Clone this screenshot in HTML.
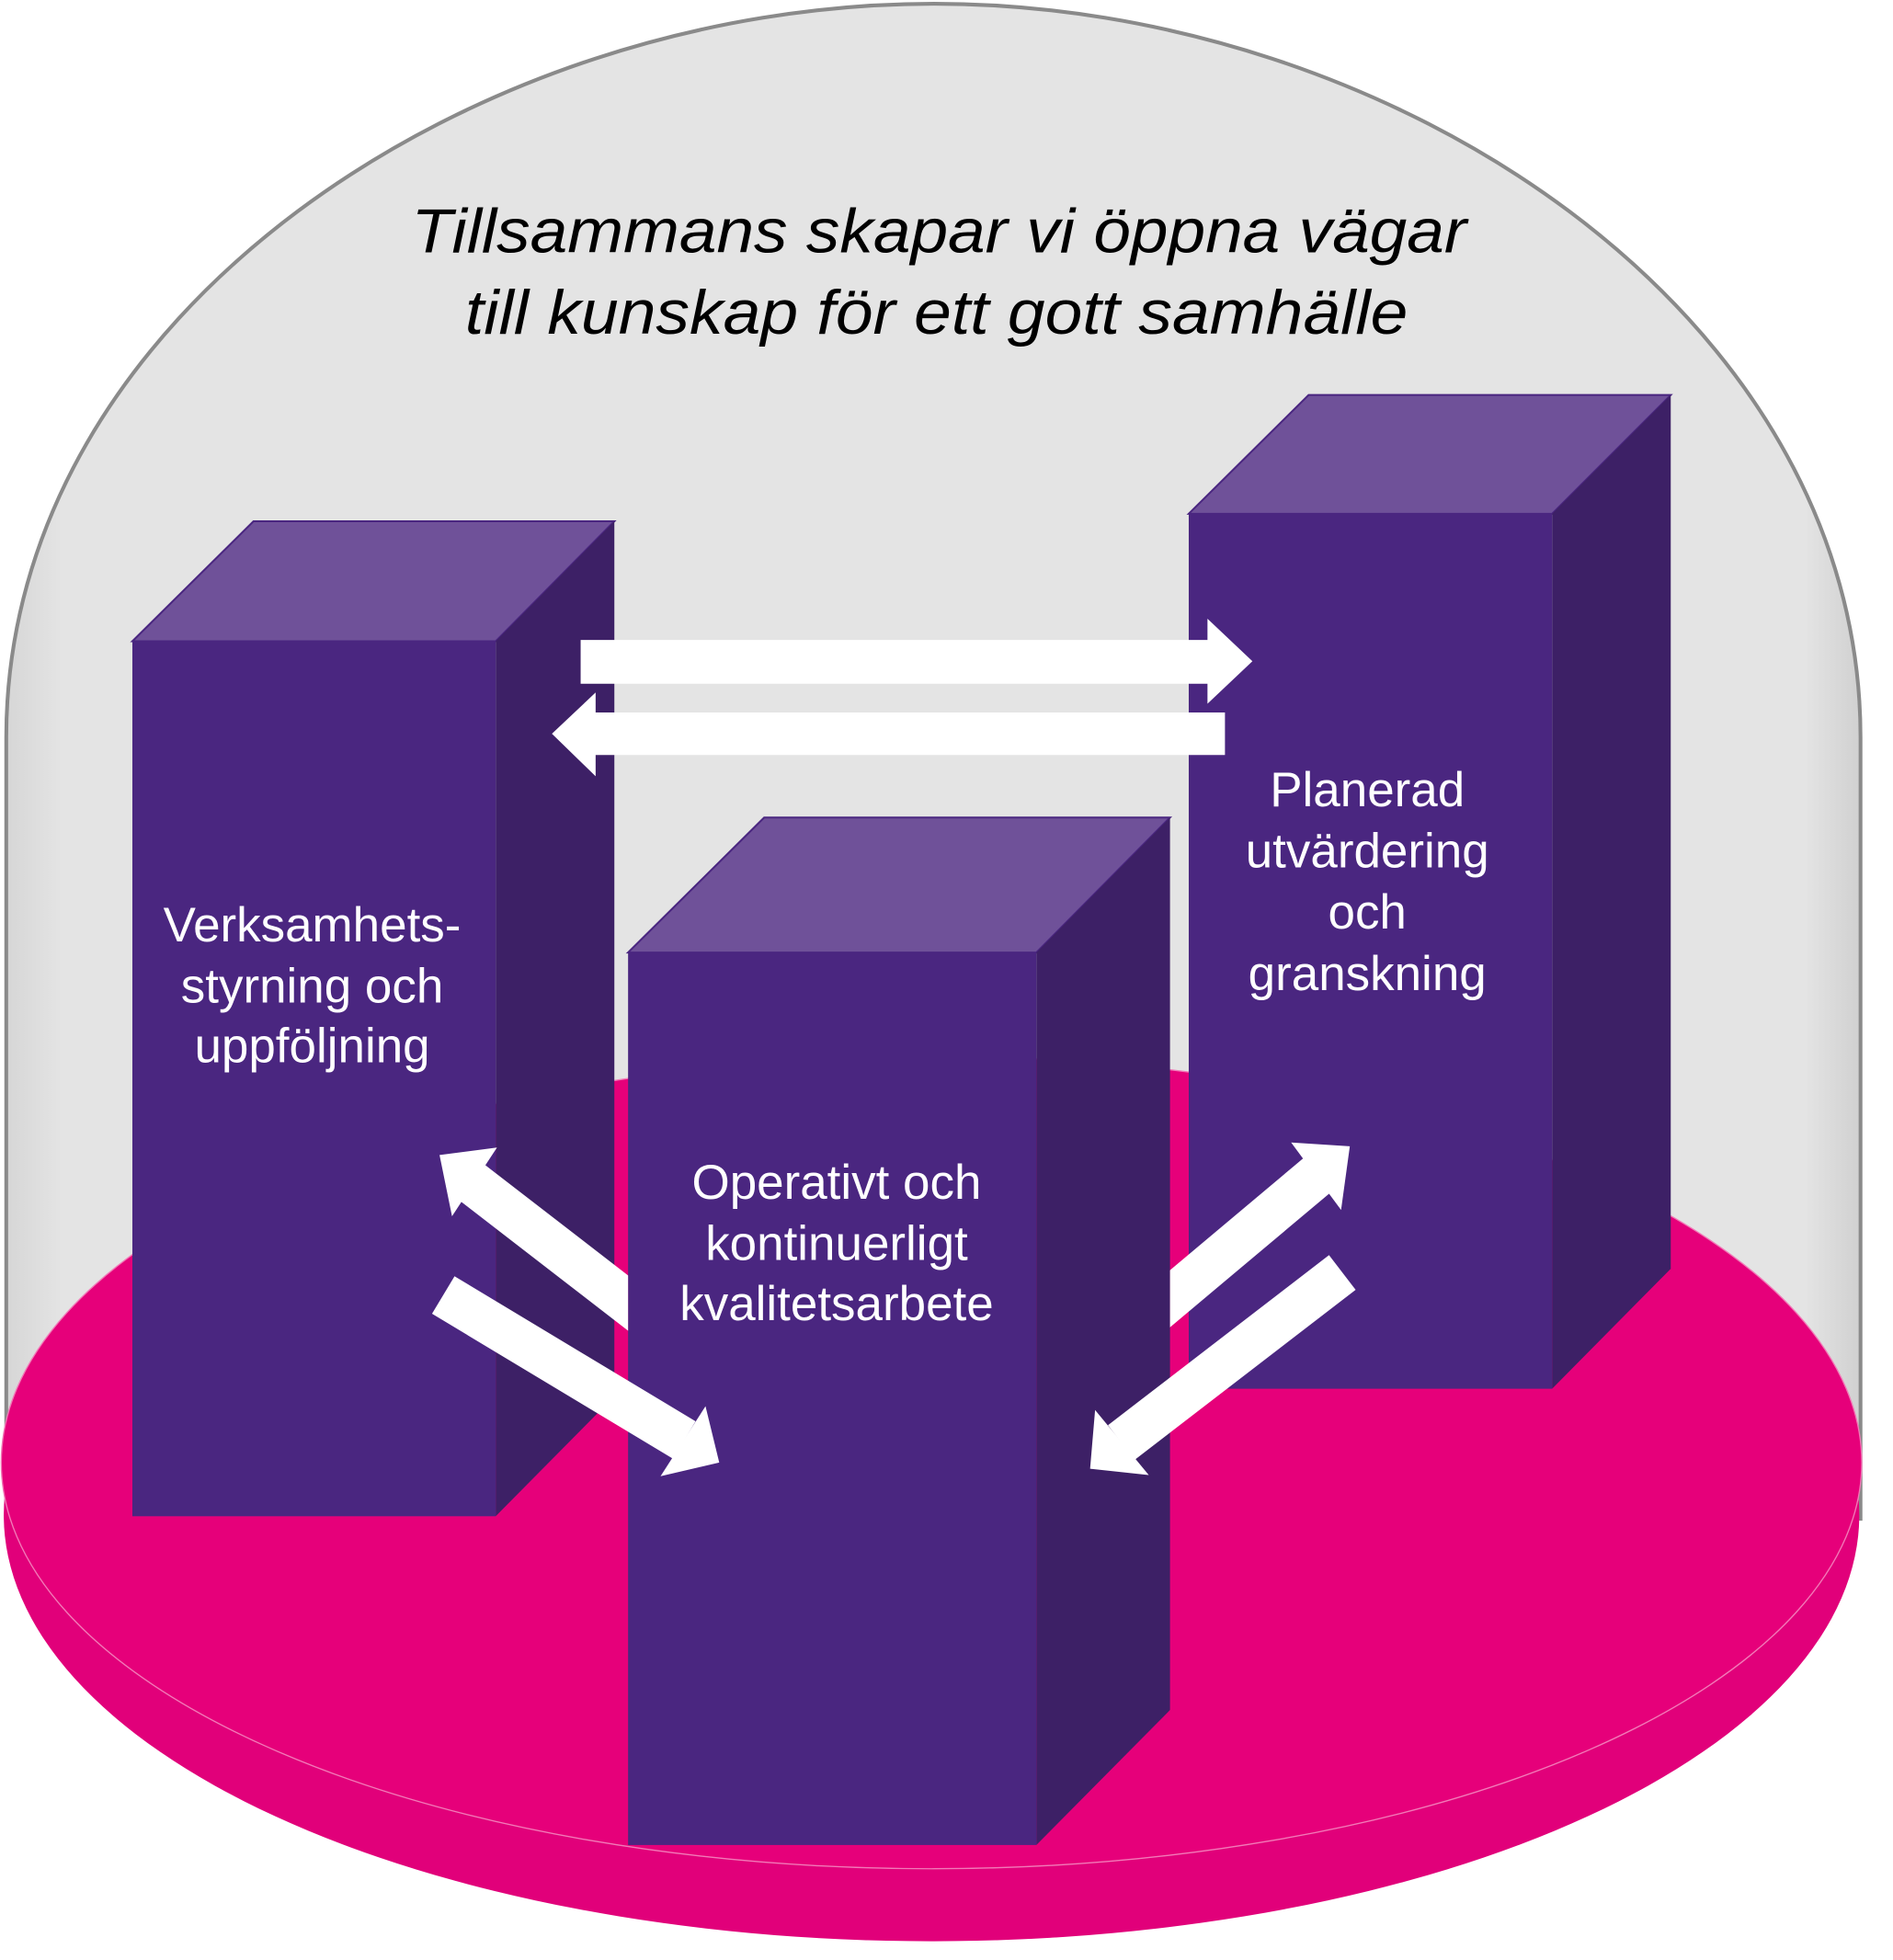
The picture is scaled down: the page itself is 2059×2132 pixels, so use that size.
<!DOCTYPE html>
<html><head><meta charset="utf-8"><style>
html,body{margin:0;padding:0;background:#fff;}
svg{display:block;}
</style></head><body>
<svg width="2059" height="2132" viewBox="0 0 1516 1568" preserveAspectRatio="none" xmlns="http://www.w3.org/2000/svg">
<defs>
<linearGradient id="dome" x1="0" y1="0" x2="1" y2="0">
<stop offset="0" stop-color="#d6d6d6"/><stop offset="0.03" stop-color="#e4e4e4"/><stop offset="0.97" stop-color="#e4e4e4"/><stop offset="1" stop-color="#d0d0d0"/>
</linearGradient>
<clipPath id="cl"><rect x="0" y="0" width="503" height="1568"/></clipPath>
<clipPath id="cr"><rect x="937" y="0" width="600" height="1568"/></clipPath>
</defs>
<path d="M5,1215 L5,590 C5,250 380,3 748,3 C1115,3 1490,250 1490,590 L1490,1215 Z" fill="url(#dome)" stroke="#8a8a8a" stroke-width="3"/>
<ellipse cx="746" cy="1212" rx="743" ry="341" fill="#e1007a"/>
<ellipse cx="746" cy="1170" rx="745" ry="325" fill="#e6007a" stroke="#f27ab8" stroke-width="1"/>
<!-- left pillar -->
<polygon points="106,513 203,417 492,417 397,513" fill="#6f5199" stroke="#4a2680" stroke-width="1.5"/>
<polygon points="397,513 492,417 492,1117 397,1213" fill="#3d2066"/>
<rect x="106" y="513" width="291" height="700" fill="#4a2680"/>
<!-- right pillar -->
<polygon points="952,411 1048,316 1338,316 1243,411" fill="#6f5199" stroke="#4a2680" stroke-width="1.5"/>
<polygon points="1243,411 1338,316 1338,1015 1243,1111" fill="#3d2066"/>
<rect x="952" y="411" width="291" height="700" fill="#4a2680"/>
<!-- center pillar -->
<polygon points="503,762 612,654 937,654 830,762" fill="#6f5199" stroke="#4a2680" stroke-width="1.5"/>
<polygon points="830,762 937,654 937,1368 830,1476" fill="#3d2066"/>
<rect x="503" y="762" width="327" height="714" fill="#4a2680"/>
<!-- arrows -->
<g fill="#ffffff">
<polygon points="465,512 967,512 967,495 1003,529 967,563 967,547 465,547"/>
<polygon points="981,570 477,570 477,554 442,587 477,621 477,604 981,604"/>
</g>
<g stroke="#fff" stroke-width="35" fill="none">
<line x1="540" y1="1071" x2="378" y2="946" clip-path="url(#cl)"/>
<line x1="355" y1="1036" x2="548" y2="1152"/>
<line x1="900" y1="1070" x2="1055" y2="940" clip-path="url(#cr)"/>
<line x1="1075" y1="1018" x2="898" y2="1154"/>
</g>
<g fill="#fff">
<polygon points="352,924 398,918 362,973"/>
<polygon points="576,1170 529,1181 565,1125"/>
<polygon points="1081,917 1034,914 1074,968"/>
<polygon points="873,1175 920,1180 877,1128"/>
</g>
<g font-family="'Liberation Sans', Arial, sans-serif">
<text x="752" y="202" font-size="50" font-style="italic" text-anchor="middle" fill="#000" textLength="845" lengthAdjust="spacingAndGlyphs">Tillsammans skapar vi öppna vägar</text>
<text x="750" y="267" font-size="50" font-style="italic" text-anchor="middle" fill="#000" textLength="755" lengthAdjust="spacingAndGlyphs">till kunskap för ett gott samhälle</text>
<g fill="#fff" font-size="39" text-anchor="middle">
<text x="250" y="753">Verksamhets-</text>
<text x="250" y="802">styrning och</text>
<text x="250" y="850">uppföljning</text>
<text x="1095" y="645">Planerad</text>
<text x="1095" y="694">utvärdering</text>
<text x="1095" y="743">och</text>
<text x="1095" y="792">granskning</text>
<text x="670" y="959">Operativt och</text>
<text x="670" y="1008">kontinuerligt</text>
<text x="670" y="1056">kvalitetsarbete</text>
</g>
</g>
</svg>
</body></html>
